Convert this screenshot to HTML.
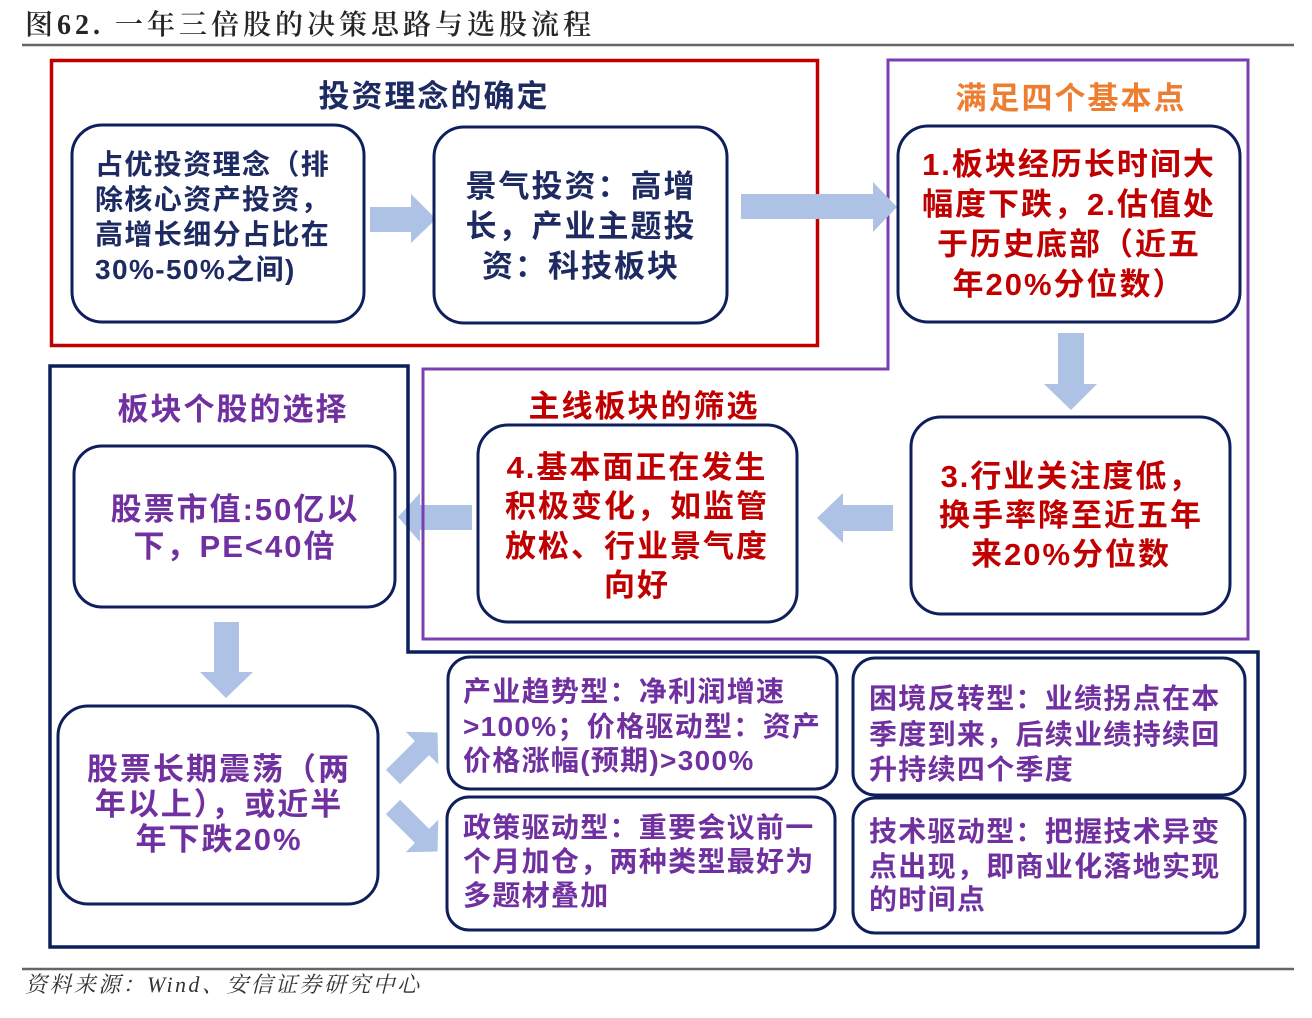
<!DOCTYPE html>
<html>
<head>
<meta charset="utf-8">
<style>
  html,body{margin:0;padding:0;background:#fff;}
  svg{display:block;}
  .b{font-family:"Liberation Sans","Noto Sans CJK SC",sans-serif;font-weight:700;}
  .big{font-size:31px;letter-spacing:2px;}
  .sm{font-size:28px;letter-spacing:1.3px;}
  .navy{fill:#1e2b63;}
  .red{fill:#c00000;}
  .pur{fill:#7030a0;}
  .org{fill:#ed7d31;}
  .box{fill:#fff;stroke:#0f1f5c;stroke-width:3;}
  .arr{fill:#adc2e4;}
</style>
</head>
<body>
<svg width="1312" height="1018" viewBox="0 0 1312 1018" xmlns="http://www.w3.org/2000/svg">
  <rect x="0" y="0" width="1312" height="1018" fill="#fff"/>

  <!-- Header -->
  <text x="25" y="34" style="font-family:'Liberation Serif','Noto Serif CJK SC',serif;font-size:28px;font-weight:600;letter-spacing:4px;" fill="#262626">图62. 一年三倍股的决策思路与选股流程</text>
  <line x1="22" y1="45" x2="1294" y2="45" stroke="#666" stroke-width="2.5"/>

  <!-- Arrow E->F drawn under frames -->
  <polygon class="arr" points="472,505 420,505 420,493 398,517 420,542 420,530 472,530"/>

  <!-- Frames -->
  <rect x="51.5" y="60.5" width="766" height="285" fill="none" stroke="#c00000" stroke-width="3.5"/>
  <polygon points="888,60 1248,60 1248,639 423,639 423,369 888,369" fill="none" stroke="#7b3fb0" stroke-width="3"/>
  <polygon points="50,366 408,366 408,652 1258,652 1258,947 50,947" fill="none" stroke="#0a1f5c" stroke-width="3.5"/>

  <!-- Section titles -->
  <text x="434" y="107" text-anchor="middle" class="b big navy">投资理念的确定</text>
  <text x="1071" y="109" text-anchor="middle" class="b big org">满足四个基本点</text>
  <text x="644" y="417" text-anchor="middle" class="b big red">主线板块的筛选</text>
  <text x="233" y="420" text-anchor="middle" class="b big pur">板块个股的选择</text>

  <!-- Arrows -->
  <polygon class="arr" points="370,207 411,207 411,194 436,219 411,243 411,232 370,232"/>
  <polygon class="arr" points="741,194 873,194 873,182 897,207 873,232 873,219 741,219"/>
  <polygon class="arr" points="1058,333 1084,333 1084,384 1097,384 1071,410 1044,384 1058,384"/>
  <polygon class="arr" points="893,505 843,505 843,493 817,518 843,543 843,531 893,531"/>
  <polygon class="arr" points="214,622 239,622 239,672 253,672 226,698 200,672 214,672"/>
  <g transform="translate(393,777) rotate(-45)">
    <polygon class="arr" points="0,-10 41,-10 41,-23 63,0 41,23 41,10 0,10"/>
  </g>
  <g transform="translate(393,807) rotate(45)">
    <polygon class="arr" points="0,-10 41,-10 41,-23 63,0 41,23 41,10 0,10"/>
  </g>

  <!-- Boxes -->
  <rect class="box" x="72" y="125" width="292" height="197" rx="30" ry="30"/>
  <rect class="box" x="434" y="127" width="293" height="196" rx="30" ry="30"/>
  <rect class="box" x="898" y="126" width="342" height="196" rx="30" ry="30"/>
  <rect class="box" x="911" y="417" width="319" height="197" rx="30" ry="30"/>
  <rect class="box" x="478" y="425" width="319" height="197" rx="30" ry="30"/>
  <rect class="box" x="74" y="446" width="321" height="161" rx="28" ry="28"/>
  <rect class="box" x="58" y="706" width="320" height="198" rx="30" ry="30"/>
  <rect class="box" x="448" y="657" width="389" height="132" rx="22" ry="22"/>
  <rect class="box" x="447" y="797" width="388" height="133" rx="22" ry="22"/>
  <rect class="box" x="853" y="658" width="392" height="137" rx="22" ry="22"/>
  <rect class="box" x="853" y="798" width="392" height="135" rx="22" ry="22"/>

  <!-- Box A -->
  <g class="b navy" style="font-size:28px;letter-spacing:1.4px;">
    <text x="95" y="174">占优投资理念（排</text>
    <text x="95" y="209">除核心资产投资，</text>
    <text x="95" y="244">高增长细分占比在</text>
    <text x="95" y="279">30%-50%之间)</text>
  </g>

  <!-- Box B -->
  <g class="b big navy" text-anchor="middle">
    <text x="581" y="197">景气投资：高增</text>
    <text x="581" y="237">长，产业主题投</text>
    <text x="581" y="277">资：科技板块</text>
  </g>

  <!-- Box C -->
  <g class="b big red" text-anchor="middle">
    <text x="1069" y="175">1.板块经历长时间大</text>
    <text x="1069" y="215">幅度下跌，2.估值处</text>
    <text x="1069" y="255">于历史底部（近五</text>
    <text x="1069" y="295">年20%分位数）</text>
  </g>

  <!-- Box D -->
  <g class="b big red" text-anchor="middle">
    <text x="1071" y="487">3.行业关注度低，</text>
    <text x="1071" y="526">换手率降至近五年</text>
    <text x="1071" y="565">来20%分位数</text>
  </g>

  <!-- Box E -->
  <g class="b big red" text-anchor="middle">
    <text x="637" y="478">4.基本面正在发生</text>
    <text x="637" y="517">积极变化，如监管</text>
    <text x="637" y="557">放松、行业景气度</text>
    <text x="637" y="596">向好</text>
  </g>

  <!-- Box F -->
  <g class="b big pur" text-anchor="middle">
    <text x="235" y="520">股票市值:50亿以</text>
    <text x="235" y="557">下，PE&lt;40倍</text>
  </g>

  <!-- Box G -->
  <g class="b big pur" text-anchor="middle">
    <text x="219" y="780">股票长期震荡（两</text>
    <text x="219" y="815">年以上），或近半</text>
    <text x="219" y="850">年下跌20%</text>
  </g>

  <!-- Box H -->
  <g class="b sm pur">
    <text x="463" y="701">产业趋势型：净利润增速</text>
    <text x="463" y="736">&gt;100%；价格驱动型：资产</text>
    <text x="463" y="770">价格涨幅(预期)&gt;300%</text>
  </g>

  <!-- Box I -->
  <g class="b sm pur">
    <text x="463" y="837">政策驱动型：重要会议前一</text>
    <text x="463" y="871">个月加仓，两种类型最好为</text>
    <text x="463" y="905">多题材叠加</text>
  </g>

  <!-- Box J -->
  <g class="b sm pur">
    <text x="869" y="708">困境反转型：业绩拐点在本</text>
    <text x="869" y="744">季度到来，后续业绩持续回</text>
    <text x="869" y="779">升持续四个季度</text>
  </g>

  <!-- Box K -->
  <g class="b sm pur">
    <text x="869" y="841">技术驱动型：把握技术异变</text>
    <text x="869" y="876">点出现，即商业化落地实现</text>
    <text x="869" y="909">的时间点</text>
  </g>

  <!-- Footer -->
  <line x1="22" y1="969" x2="1294" y2="969" stroke="#666" stroke-width="2.5"/>
  <text x="25" y="992" style="font-family:'Liberation Serif','Noto Serif CJK SC',serif;font-size:22px;font-style:italic;letter-spacing:2.4px;" fill="#333">资料来源：Wind、安信证券研究中心</text>
</svg>
</body>
</html>
